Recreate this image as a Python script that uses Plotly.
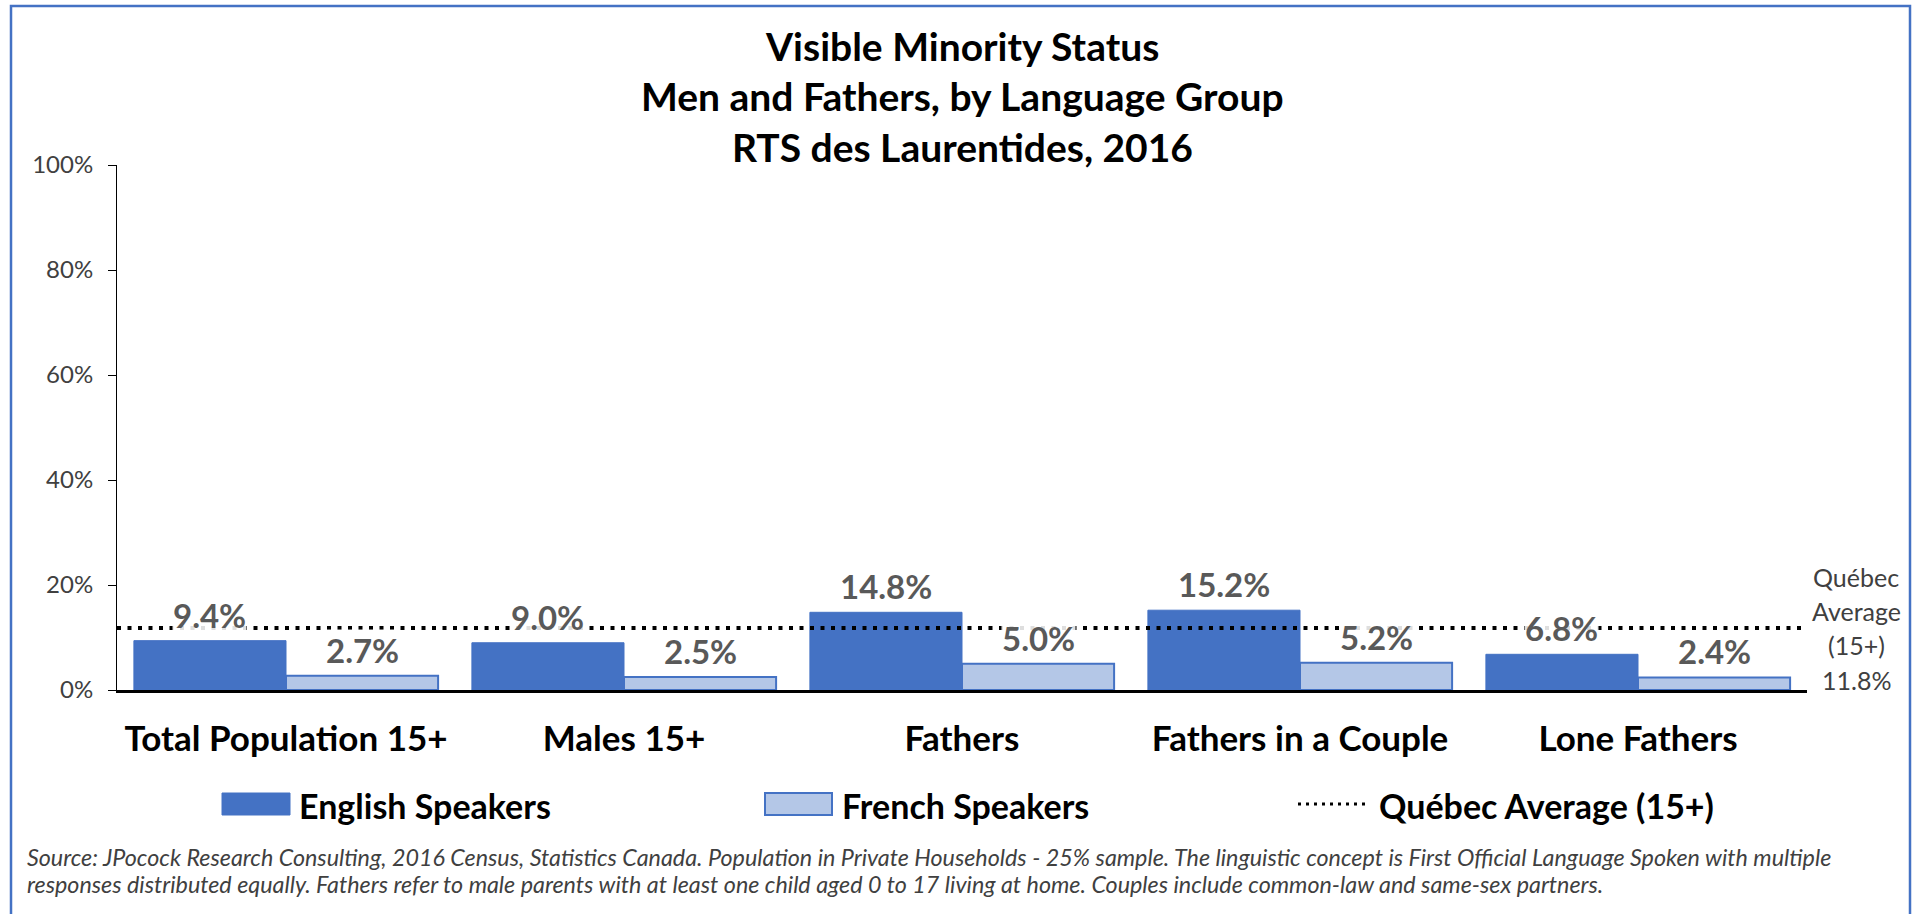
import plotly.graph_objects as go

# ---------------- data ----------------
categories = ["Total Population 15+", "Males 15+", "Fathers", "Fathers in a Couple", "Lone Fathers"]
english = [9.4, 9.0, 14.8, 15.2, 6.8]
french = [2.7, 2.5, 5.0, 5.2, 2.4]
quebec_avg = 11.8
series_names = ["English Speakers", "French Speakers", "Québec Average (15+)"]
y_ticks = [0, 20, 40, 60, 80, 100]
y_tick_labels = ["0%", "20%", "40%", "60%", "80%", "100%"]
title_lines = ["Visible Minority Status", "Men and Fathers, by Language Group", "RTS des Laurentides, 2016"]
note_lines = ["Québec", "Average", "(15+)", f"{quebec_avg:.1f}%"]
source_lines = [
    "Source: JPocock Research Consulting, 2016 Census, Statistics Canada. Population in Private Households - 25% sample. The linguistic concept is First Official Language Spoken with multiple",
    "responses distributed equally. Fathers refer to male parents with at least one child aged 0 to 17 living at home. Couples include common-law and same-sex partners.",
]

# ---------------- geometry (pixels) ----------------
W, H = 1925, 914
L, R, T, B = 117, 1807, 165, 690
PW, PH = R - L, B - T


def xp(px):
    return (px - L) / PW


def yp(py):
    return (B - py) / PH


BLUE = "#4472C4"
LIGHT = "#B4C7E7"
FONT = "Lato"
LABEL_GRAY = "#595959"
DOT = "4px,6.5px"

idx = list(range(len(categories)))
off = 0.225

fig = go.Figure()
fig.add_trace(go.Bar(
    x=[i - off for i in idx], y=english, width=0.45, name=series_names[0],
    marker=dict(color=BLUE, line=dict(color=BLUE, width=1)), showlegend=False,
))
fig.add_trace(go.Bar(
    x=[i + off for i in idx], y=french, width=0.45, name=series_names[1],
    marker=dict(color=LIGHT, line=dict(color=BLUE, width=2)), showlegend=False,
))
fig.add_trace(go.Scatter(
    x=[-0.5, len(categories) - 0.5], y=[quebec_avg, quebec_avg], mode="lines",
    name=series_names[2], line=dict(color="black", width=4, dash=DOT), showlegend=False,
    hoverinfo="skip",
))

annotations = []
# data labels
for offs, vals in ((-off, english), (off, french)):
    for i, v in zip(idx, vals):
        annotations.append(dict(x=i + offs, y=v, xref="x", yref="y", text=f"{v:.1f}%", showarrow=False,
                                yanchor="bottom", yshift=5, bgcolor="rgba(255,255,255,0.87)", borderpad=0,
                                font=dict(family=FONT, size=33, color=LABEL_GRAY, weight="bold")))

# title (one annotation per line)
for py, line in zip([46, 96, 147], title_lines):
    annotations.append(dict(x=0.5, y=yp(py), xref="paper", yref="paper", text=line,
                            showarrow=False, xanchor="center", yanchor="middle",
                            font=dict(family=FONT, size=39, color="black", weight="bold")))
# right-side note
for py, line in zip([577, 611, 645, 680], note_lines):
    annotations.append(dict(x=xp(1856), y=yp(py), xref="paper", yref="paper", text=line,
                            showarrow=False, xanchor="center", yanchor="middle",
                            font=dict(family=FONT, size=25, color="#404040")))
# source
for py, line in zip([857, 884], source_lines):
    annotations.append(dict(x=xp(25), y=yp(py), xref="paper", yref="paper", text=line,
                            showarrow=False, xanchor="left", yanchor="middle", align="left",
                            font=dict(family=FONT, size=23.3, color="#404040", style="italic")))

# custom legend
shapes = []
leg_y = 804
shapes.append(dict(type="rect", xref="paper", yref="paper", x0=xp(222), x1=xp(290), y0=yp(815), y1=yp(793),
                   fillcolor=BLUE, line=dict(color=BLUE, width=1)))
shapes.append(dict(type="rect", xref="paper", yref="paper", x0=xp(765), x1=xp(832), y0=yp(815), y1=yp(793),
                   fillcolor=LIGHT, line=dict(color=BLUE, width=2)))
shapes.append(dict(type="line", xref="paper", yref="paper", x0=xp(1298), x1=xp(1367), y0=yp(leg_y), y1=yp(leg_y),
                   line=dict(color="black", width=3, dash="3px,5px")))
for px, name in zip([297, 840, 1377], series_names):
    annotations.append(dict(x=xp(px), y=yp(leg_y + 1), xref="paper", yref="paper", text=name, showarrow=False,
                            xanchor="left", yanchor="middle",
                            font=dict(family=FONT, size=34, color="black", weight="bold")))

# outer border
shapes.append(dict(type="rect", xref="paper", yref="paper", x0=xp(11), x1=xp(1910), y0=yp(940), y1=yp(6),
                   line=dict(color=BLUE, width=2.5), fillcolor="rgba(0,0,0,0)", layer="below"))

fig.update_layout(
    width=W, height=H,
    margin=dict(l=L, r=W - R, t=T, b=H - B, autoexpand=False),
    paper_bgcolor="white", plot_bgcolor="white",
    barmode="overlay", showlegend=False,
    annotations=annotations, shapes=shapes,
    font=dict(family=FONT),
)
fig.update_xaxes(
    range=[-0.5, len(categories) - 0.5], tickvals=idx, ticktext=categories,
    showline=True, linecolor="black", linewidth=3, ticks="", showgrid=False, zeroline=False,
    tickfont=dict(family=FONT, size=35, color="black", weight="bold"), ticklabelstandoff=16,
)
fig.update_yaxes(
    range=[0, 100], tickvals=y_ticks, ticktext=y_tick_labels,
    showline=True, linecolor="black", linewidth=1, ticks="outside", ticklen=8, tickcolor="black",
    showgrid=False, zeroline=False,
    tickfont=dict(family=FONT, size=24, color="#404040"), ticklabelstandoff=10,
)

fig.write_html("out.html", config={"displayModeBar": False},
               post_script="document.body.style.margin='0';document.body.style.overflow='hidden';")
